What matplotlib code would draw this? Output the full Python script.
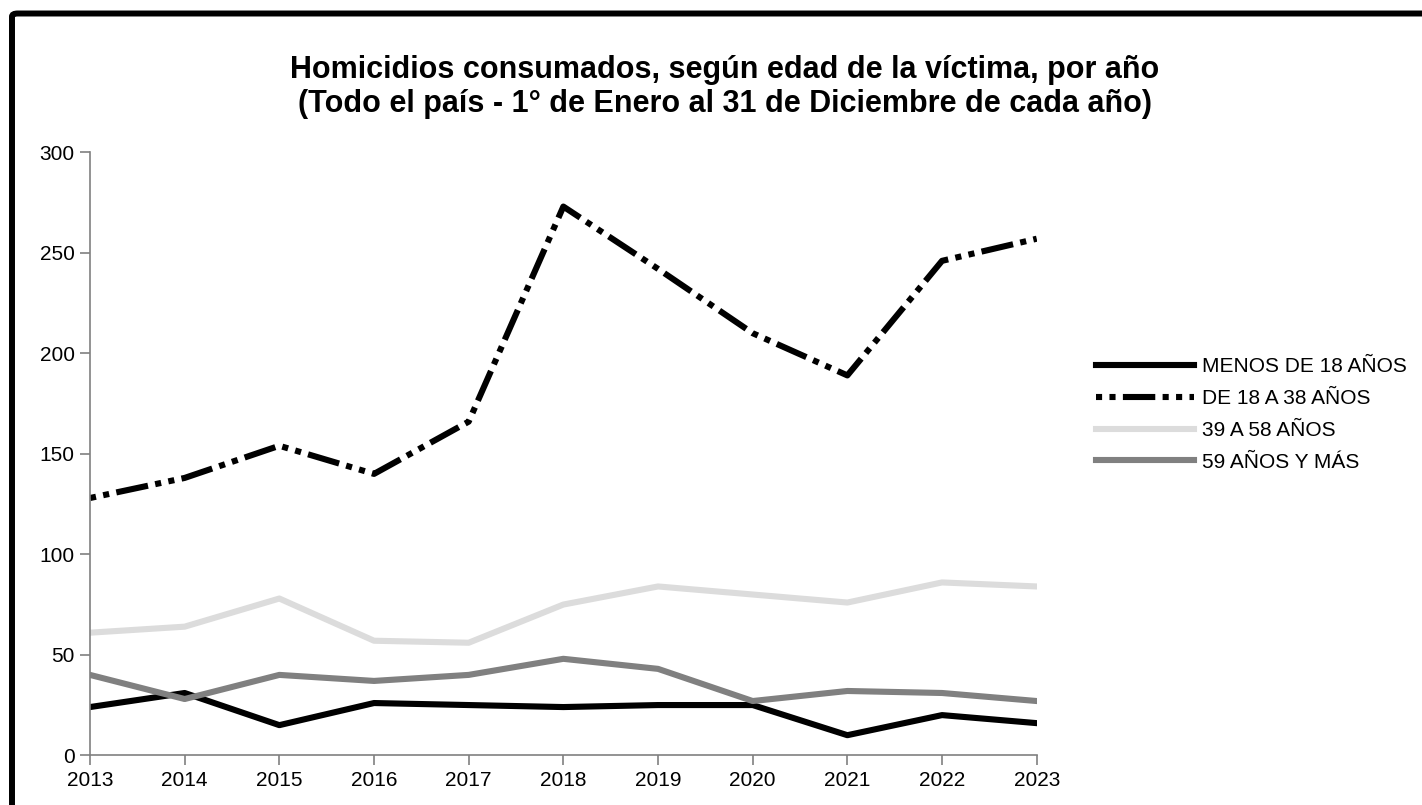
import matplotlib.pyplot as plt
from matplotlib.patches import FancyBboxPatch

plt.rcParams['font.family'] = ['Liberation Sans', 'DejaVu Sans']

years = [2013, 2014, 2015, 2016, 2017, 2018, 2019, 2020, 2021, 2022, 2023]
menos_18 = [24, 31, 15, 26, 25, 24, 25, 25, 10, 20, 16]
de_18_a_38 = [128, 138, 154, 140, 166, 273, 242, 210, 189, 246, 257]
de_39_a_58 = [61, 64, 78, 57, 56, 75, 84, 80, 76, 86, 84]
mas_59 = [40, 28, 40, 37, 40, 48, 43, 27, 32, 31, 27]

labels = ['MENOS DE 18 AÑOS', 'DE 18 A 38 AÑOS', '39 A 58 AÑOS', '59 AÑOS Y MÁS']
title = ('Homicidios consumados, según edad de la víctima, por año\n'
         '(Todo el país - 1° de Enero al 31 de Diciembre de cada año)')

W, H = 1422, 805
fig = plt.figure(figsize=(W / 100, H / 100), dpi=100)
ax = fig.add_axes([90 / W, 1 - 755.3 / H, (1036.7 - 90) / W, (755.3 - 152.3) / H])

lw = 4.4
ax.plot(years, menos_18, color='black', lw=lw, label=labels[0])
ax.plot(years, de_18_a_38, color='black', lw=lw, label=labels[1],
        dashes=(1, 1.2, 1, 1.2, 5.3, 1.2), dash_capstyle='butt')
ax.plot(years, de_39_a_58, color='#dcdcdc', lw=lw, label=labels[2])
ax.plot(years, mas_59, color='#808080', lw=lw, label=labels[3])

ax.set_xlim(2013, 2023)
ax.set_ylim(0, 300)
ax.set_xticks(years)
ax.set_yticks(range(0, 301, 50))

for side in ['top', 'right']:
    ax.spines[side].set_visible(False)
for side in ['left', 'bottom']:
    ax.spines[side].set_color('#808080')
    ax.spines[side].set_linewidth(1.2)
ax.tick_params(axis='both', direction='out', length=7, width=1.2,
               color='#808080', labelsize=15, labelcolor='black')
ax.tick_params(axis='y', pad=4)
ax.tick_params(axis='x', pad=4)

fig.text(725 / W, 1 - 87 / H, title, ha='center', va='center',
         fontsize=22, fontweight='bold', linespacing=1.15)

fig.legend(loc='upper left', bbox_to_anchor=(1096 / W, 1 - 357 / H),
           frameon=False, fontsize=15, handlelength=4.7, handletextpad=0.38,
           labelspacing=0.62, borderpad=0, borderaxespad=0)

# thick outer frame
frame = FancyBboxPatch((12 / W, -0.05), 1.1, 1 - 13.5 / H + 0.05,
                       boxstyle='round,pad=0,rounding_size=0.004',
                       transform=fig.transFigure, fill=False,
                       edgecolor='black', lw=4.3, clip_on=False)
fig.patches.append(frame)

fig.savefig('out.png', dpi=100)
